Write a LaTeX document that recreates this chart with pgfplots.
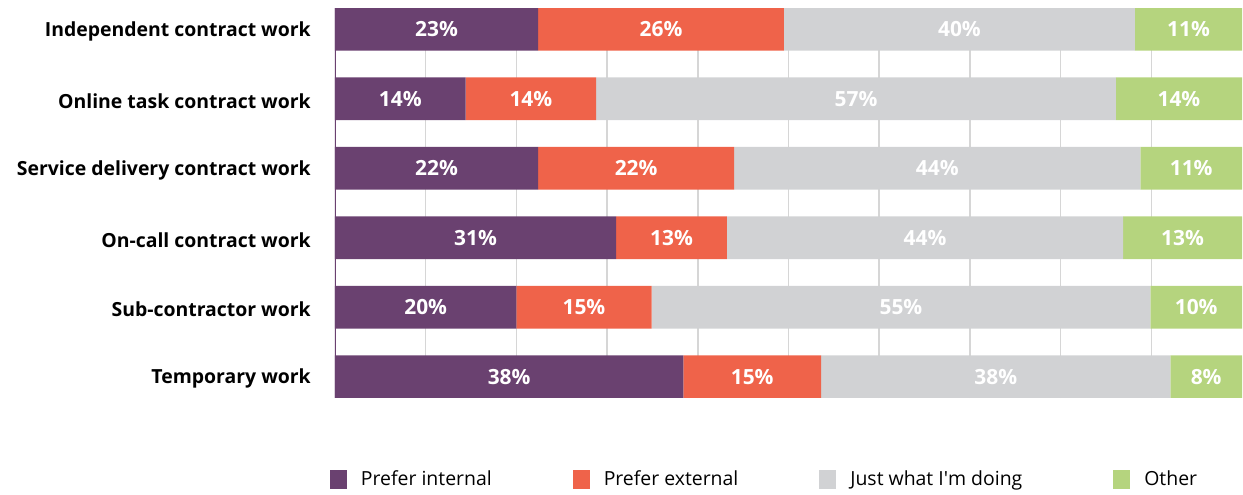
\documentclass[border=0pt]{standalone}
\usepackage{pgfplots}
\usepackage{pgfplotstable}
\usepackage{fontspec}
\setmainfont{Open Sans}
\pgfplotsset{compat=1.18}
\definecolor{cInt}{HTML}{6A4170}
\definecolor{cExt}{HTML}{EF634A}
\definecolor{cJust}{HTML}{D1D2D4}
\definecolor{cOther}{HTML}{B5D47E}
\definecolor{cGrid}{HTML}{D6D6D6}

\pgfplotstableread{
y x lab
5 22.4 23
4 14.4 14
3 22.4 22
2 31.0 31
1 20.0 20
0 38.4 38
}\tInt
\pgfplotstableread{
y x lab
5 27.1 26
4 14.4 14
3 21.6 22
2 12.2 13
1 14.9 15
0 15.2 15
}\tExt
\pgfplotstableread{
y x lab
5 38.7 40
4 57.3 57
3 44.8 44
2 43.7 44
1 55.0 55
0 38.5 38
}\tJust
\pgfplotstableread{
y x lab
5 11.8 11
4 13.9 14
3 11.2 11
2 13.1 13
1 10.1 10
0 7.9 8
}\tOther

\begin{document}
\begin{tikzpicture}
\begin{axis}[
  at={(0,0)}, anchor=south west,
  scale only axis, width=907bp, height=390bp,
  xbar stacked, bar width=42.7bp,
  xmin=0, xmax=100, ymin=-0.3075, ymax=5.3075,
  xtick={10,20,...,90}, xticklabels={},
  xmajorgrids, grid style={draw=cGrid, line width=1.5bp},
  ytick={0,...,5},
  yticklabels={Temporary work, Sub-contractor work, On-call contract work, Service delivery contract work, Online task contract work, Independent contract work},
  yticklabel style={font=\fontsize{19.5}{21}\selectfont\bfseries, inner sep=0pt, xshift=-24bp, yshift=-2bp},
  major tick length=0pt,
  axis line style={draw=none},
  tick style={draw=none},
  point meta=explicit symbolic,
  nodes near coords={\pgfplotspointmeta\%},
  every node near coord/.append style={anchor=center, text=white, font=\fontsize{21}{22}\selectfont\bfseries},
  legend columns=4,
  legend cell align=left,
  legend image code/.code={\fill[#1] (0bp,-10bp) rectangle (17bp,9bp);},
  legend style={at={(0,0)}, anchor=north west, xshift=-5bp, yshift=-72bp, draw=none, inner sep=0pt, outer sep=0pt,
    font=\fontsize{19.5}{21}\selectfont, nodes={inner sep=0pt},
    /tikz/every odd column/.append style={column sep=14bp},
    /tikz/every even column/.append style={column sep=81bp}},
]
\addplot[fill=cInt, draw=none] table[x=x, y=y, meta=lab] {\tInt};
\addlegendentry{Prefer internal}
\addplot[fill=cExt, draw=none] table[x=x, y=y, meta=lab] {\tExt};
\addlegendentry{Prefer external}
\addplot[fill=cJust, draw=none] table[x=x, y=y, meta=lab] {\tJust};
\addlegendentry{Just what I\textquotesingle m doing\rule{10bp}{0pt}}
\addplot[fill=cOther, draw=none] table[x=x, y=y, meta=lab] {\tOther};
\addlegendentry{Other}
\draw[cInt, line width=1.5bp] (rel axis cs:0,0) -- (rel axis cs:0,1);
\end{axis}
\pgfresetboundingbox
\useasboundingbox (-335bp,-97bp) rectangle (908bp,398bp);
\end{tikzpicture}
\end{document}
